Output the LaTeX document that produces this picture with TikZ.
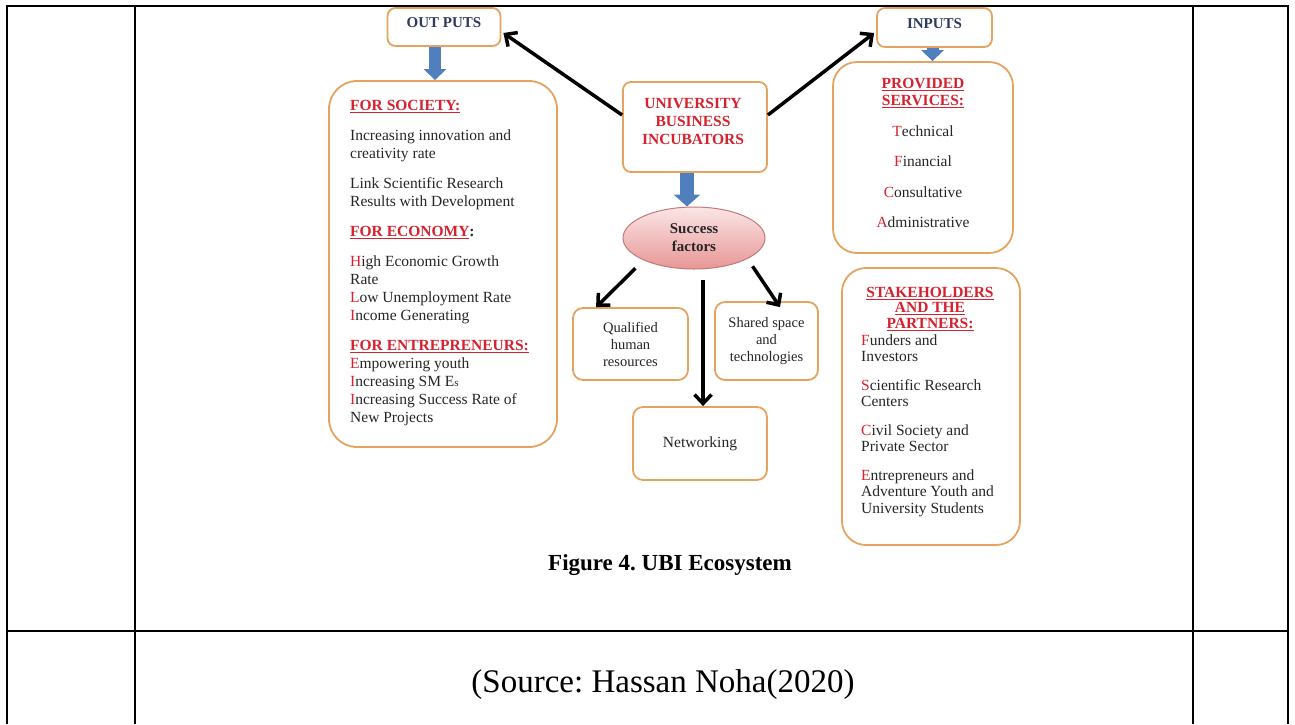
\documentclass[tikz,border=0pt]{standalone}
\usepackage{fontspec}
\setmainfont{Liberation Serif}
\usepackage{tikz}
\usetikzlibrary{arrows.meta,calc,shapes.geometric,positioning}
\definecolor{BoxOrange}{RGB}{228,163,95}
\definecolor{ArrowBlue}{RGB}{79,127,189}
\definecolor{TitleRed}{RGB}{214,34,46}
\definecolor{HeadNavy}{RGB}{44,58,92}
\definecolor{BodyGray}{RGB}{38,38,38}
\definecolor{EllTop}{RGB}{251,230,230}
\definecolor{EllBottom}{RGB}{232,150,150}
\definecolor{EllBorder}{RGB}{196,120,120}
\newcommand{\redcap}[1]{\textcolor{TitleRed}{#1}}
\newcommand{\redhead}[1]{\textcolor{TitleRed}{\textbf{\underline{#1}}}}
\frenchspacing

\begin{document}
\begin{tikzpicture}[x=1pt,y=-1pt,
    every node/.style={inner sep=0pt, text=BodyGray, font=\fontsize{15.5}{18}\selectfont},
    ubox/.style={draw=BoxOrange, line width=1.8pt, rounded corners=8pt, fill=white},
    bigbox/.style={ubox, rounded corners=28pt},
    headtext/.style={font=\fontsize{15}{18}\selectfont\bfseries, text=HeadNavy},
    bluearrow/.style={ArrowBlue, line width=12pt, -{Triangle[width=22pt,length=11pt]}},
    flowarrow/.style={black, line width=3.5pt, -{Straight Barb[length=9pt,width=17pt]}},
    tablerule/.style={black, line width=2.5pt}]
    \useasboundingbox (0,0) rectangle (1295,724);
    %%Table frame
    \draw[tablerule] (7,724) -- (7,6) -- (1288,6) -- (1288,724);
    \draw[tablerule] (135,6) -- (135,724);
    \draw[tablerule] (1193,6) -- (1193,724);
    \draw[tablerule] (7,631) -- (1288,631);
    %%Outputs
    \node[ubox, headtext, minimum width=113, minimum height=38, text depth=8pt] (outputs) at (444,27) {OUT PUTS};
    \node[bigbox, minimum width=228, minimum height=366] (society) at (443,264) {};
    \node[anchor=north west, align=left] (societytext) at (350,100) {%
        \redhead{FOR SOCIETY:}\\[12pt]
        Increasing innovation and\\
        creativity rate\\[12pt]
        Link Scientific Research\\
        Results with Development\\[12pt]
        \redhead{FOR ECONOMY}\textbf{:}\\[12pt]
        \redcap{H}igh Economic Growth\\
        Rate\\
        \redcap{L}ow Unemployment Rate\\
        \redcap{I}ncome Generating\\[12pt]
        \redhead{FOR ENTREPRENEURS:}\\
        \redcap{E}mpowering youth\\
        \redcap{I}ncreasing SM E{\fontsize{11}{13}\selectfont s}\\
        \redcap{I}ncreasing Success Rate of\\
        New Projects};
    %%Incubators
    \node[ubox, minimum width=144, minimum height=90] (ubi) at (695,127) {};
    \node[font=\fontsize{15.5}{18}\selectfont\bfseries, text=TitleRed, align=center] (ubitext) at (693,121) {UNIVERSITY\\BUSINESS\\INCUBATORS};
    %%Inputs
    \node[ubox, headtext, minimum width=115, minimum height=39, text depth=8pt] (inputs) at (934.5,27.5) {INPUTS};
    \node[bigbox, rounded corners=24pt, minimum width=180, minimum height=191] (services) at (923,157.5) {};
    \node[anchor=north, align=center] (servicestext) at (923,78) {%
        \redhead{PROVIDED}\\[-1pt]
        \redhead{SERVICES:}\\[13pt]
        \redcap{T}echnical\\[12pt]
        \redcap{F}inancial\\[13pt]
        \redcap{C}onsultative\\[12pt]
        \redcap{A}dministrative};
    %%Stakeholders
    \node[bigbox, rounded corners=24pt, minimum width=178, minimum height=277] (partners) at (931,406.5) {};
    \node[anchor=north, align=center] (partnershead) at (930,287) {%
        \redhead{STAKEHOLDERS}\\[-2.5pt]
        \redhead{AND THE}\\[-2.5pt]
        \redhead{PARTNERS:}};
    \node[anchor=north west, align=left] (partnerstext) at (861,334.5) {%
        \redcap{F}unders and\\[-1.5pt]
        Investors\\[10.5pt]
        \redcap{S}cientific Research\\[-1.5pt]
        Centers\\[10.5pt]
        \redcap{C}ivil Society and\\[-1.5pt]
        Private Sector\\[10.5pt]
        \redcap{E}ntrepreneurs and\\[-1.5pt]
        Adventure Youth and\\[-1.5pt]
        University Students};
    %%Success factors
    \node[ellipse, draw=EllBorder, line width=1pt, top color=EllTop, bottom color=EllBottom,
        minimum width=142, minimum height=62, align=center,
        font=\fontsize{15}{18}\selectfont\bfseries] (factors) at (694,238) {Success\\factors};
    \node[ubox, rounded corners=10pt, minimum width=115, minimum height=72, align=center,
        font=\fontsize{14.5}{17}\selectfont] (qualified) at (630.5,344) {Qualified\\human\\resources};
    \node[ubox, rounded corners=10pt, minimum width=103, minimum height=78, align=center,
        font=\fontsize{14.5}{17}\selectfont] (shared) at (766.5,341) {Shared space\\and\\technologies};
    \node[ubox, rounded corners=10pt, minimum width=134, minimum height=73] (networking) at (700,443.5) {Networking};
    %%Blue arrows
    \draw[bluearrow] ($(outputs.south)+(-9,0)$) -- ($(society.north)+(-8,0)$);
    \draw[bluearrow] ($(inputs.south)+(-2,0)$) -- ($(inputs.south |- services.north)+(-2,0)$);
    \draw[bluearrow, line width=14pt, -{Triangle[width=26pt,length=12pt]}] ($(ubi.south)+(-8,0)$) -- ($(ubi.south |- factors.north)+(-8,0)$);
    %%Black arrows
    \draw[flowarrow] ($(ubi.west)+(0,-12)$) -- ($(outputs.east)+(2,6)$);
    \draw[flowarrow] ($(ubi.east)+(0,-12)$) -- ($(inputs.west)+(-2,5.5)$);
    \draw[flowarrow] ($(factors.south west)+(-8,8)$) -- ($(qualified.north west)+(24,0)$);
    \draw[flowarrow] ($(factors.south -| networking.north)+(3,10)$) -- ($(networking.north)+(3,0)$);
    \draw[flowarrow] ($(factors.south east)+(8,6)$) -- ($(shared.north)+(13.5,6)$);
    %%Caption
    \node[font=\fontsize{23}{27}\selectfont\bfseries, text=black] (caption) at (670,565) {Figure 4. UBI Ecosystem};
    \node[font=\fontsize{33}{38}\selectfont, text=black] (source) at (663,685) {(Source: Hassan Noha(2020)};
\end{tikzpicture}
\end{document}
